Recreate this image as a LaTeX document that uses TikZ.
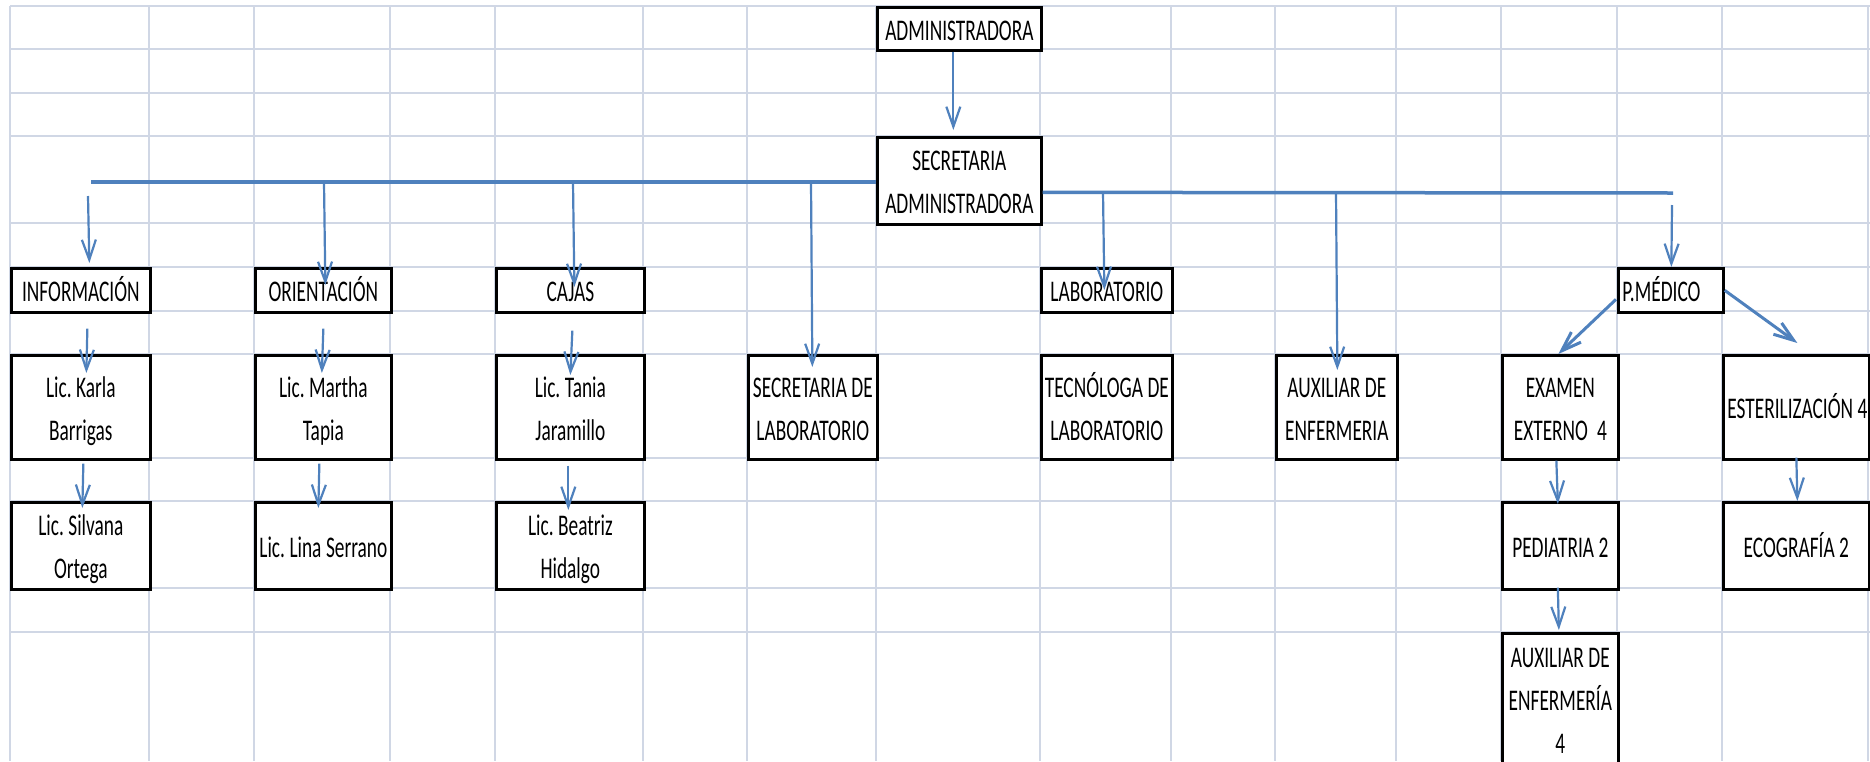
\documentclass[tikz,border=0pt]{standalone}
\usepackage{fontspec}
\setmainfont{Carlito}[FakeStretch=0.645]
\usetikzlibrary{arrows.meta,calc}
\definecolor{gridc}{RGB}{208,215,229}
\definecolor{linec}{RGB}{79,129,189}
% one spreadsheet text line: 33pt above the baseline, 10pt below
\newcommand\xlstrut{\rule[-10pt]{0pt}{43pt}}
% narrow word space of the condensed cell font
\newcommand\wsp{\hspace{4.5pt}}
\newcommand\boxfont{\fontsize{30}{43}\selectfont}
\begin{document}
\begin{tikzpicture}[x=1pt,y=-1pt,
  gridline/.style={draw=gridc,line width=2pt},
  box/.style={draw=black,line width=2.7pt,fill=white,anchor=north west,
    inner xsep=0pt,inner ysep=0pt,align=center,font=\boxfont,
    execute at begin node=\xlstrut,execute at end node=\xlstrut},
  lbox/.style={align=left,inner xsep=4pt},
  cell/.style 2 args={text width=#1pt,minimum height=#2pt},
  bus/.style={draw=linec,line width=3.5pt},
  arr/.style={draw=linec,line width=2.2pt,-{Straight Barb[length=20pt,width=14pt]}},
  diag/.style={arr,line width=3pt}]
\useasboundingbox (0,0) rectangle (1870,761);
\clip (0,0) rectangle (1870,761);
\fill[white] (0,0) rectangle (1870,761);

% sheet grid
\foreach \gx in {10,149,254,390,495,643,747,876,1040,1171,1275,1396,1501,1617,1722,1868}
  \draw[gridline] (\gx,6) -- (\gx,761);
\foreach \gy in {6,49,93,136,223,267,311,354,458,501,588,632}
  \draw[gridline] (10,\gy) -- (1870,\gy);

% boxes
\node[box,cell={164}{43}] (adm) at (876,6) {ADMINISTRADORA};
\node[box,cell={164}{87}] (sec) at (876,136) {SECRETARIA\\ADMINISTRADORA};
\node[box,cell={139}{44}] (info) at (10,267) {INFORMACIÓN};
\node[box,cell={136}{44}] (orie) at (254,267) {ORIENTACIÓN};
\node[box,cell={148}{44}] (cajas) at (495,267) {CAJAS};
\node[box,cell={131}{44}] (lab) at (1040,267) {LABORATORIO};
\node[box,lbox,cell={97}{44}] (pmed) at (1617,267) {P.MÉDICO};
\node[box,cell={139}{104}] (karla) at (10,354) {Lic.\wsp Karla\\Barrigas};
\node[box,cell={136}{104}] (martha) at (254,354) {Lic.\wsp Martha\\Tapia};
\node[box,cell={148}{104}] (tania) at (495,354) {Lic.\wsp Tania\\Jaramillo};
\node[box,cell={129}{104}] (seclab) at (747,354) {SECRETARIA\wsp DE\\LABORATORIO};
\node[box,cell={131}{104}] (tec) at (1040,354) {TECNÓLOGA\wsp DE\\LABORATORIO};
\node[box,cell={121}{104}] (aux) at (1275,354) {AUXILIAR\wsp DE\\ENFERMERIA};
\node[box,cell={116}{104}] (exam) at (1501,354) {EXAMEN\\EXTERNO\wsp\wsp 4};
\node[box,lbox,cell={138}{104}] (este) at (1722,354) {\mbox{ESTERILIZACIÓN\wsp 4}};
\node[box,cell={139}{87}] (silvana) at (10,501) {Lic.\wsp Silvana\\Ortega};
\node[box,cell={136}{87}] (lina) at (254,501) {\mbox{Lic.\wsp Lina\wsp Serrano}};
\node[box,cell={148}{87}] (beatriz) at (495,501) {Lic.\wsp Beatriz\\Hidalgo};
\node[box,cell={116}{87}] (pedia) at (1501,501) {PEDIATRIA\wsp 2};
\node[box,cell={146}{87}] (eco) at (1722,501) {ECOGRAFÍA\wsp 2};
\node[box,cell={116}{131}] (aux4) at (1501,632) {AUXILIAR\wsp DE\\ENFERMERÍA\\4};

% top link
\draw[arr] ($(adm.south)+(-6,0)$) -- ($(sec.north)+(-6,-6)$);

% distribution lines
\coordinate (busL) at (91,182);
\coordinate (busR) at (1673,193);
\draw[bus] (busL) -- (busL -| sec.west);
\draw[bus] ($(sec.east)+(0,11.5)$) -- (busR);

% drops from the distribution lines
\coordinate (dO) at (324,182);
\coordinate (dC) at (573,182);
\coordinate (dS) at (811,182);
\coordinate (dL) at (1103,192);
\coordinate (dA) at (1336,192);
\coordinate (dI) at (88,196);
\coordinate (dP) at (1672,205);
\draw[arr] (dI) -- ($(info.north)+(8.5,-4)$);
\draw[arr] (dO) -- ($(orie.north)+(2,18)$);
\draw[arr] (dC) -- ($(cajas.north)+(4,20)$);
\draw[arr] (dS) -- ($(seclab.north)+(-0.5,13)$);
\draw[arr] (dL) -- ($(lab.north)+(-2.5,23)$);
\draw[arr] (dA) -- ($(aux.north)+(0.5,16)$);
\draw[arr] (dP) -- ($(pmed.north)+(0.5,0)$);

% P.MEDICO branches
\draw[diag] ($(pmed.west)+(-1,9)$) -- ($(exam.north)+(-2,0)$);
\draw[diag] (pmed.east) -- ($(este.north)+(1,-11)$);

% lower links
\draw[arr] ($(info.south)+(6.5,15)$) -- ($(karla.north)+(5.5,19)$);
\draw[arr] ($(orie.south)+(0,15)$) -- ($(martha.north)+(-1.5,19)$);
\draw[arr] ($(cajas.south)+(2,17)$) -- ($(tania.north)+(0,21)$);
\draw[arr] ($(karla.south)+(2.5,3)$) -- ($(silvana.north)+(1.5,7)$);
\draw[arr] ($(martha.south)+(-4,3)$) -- ($(lina.north)+(-5,7)$);
\draw[arr] ($(tania.south)+(-2,5)$) -- ($(beatriz.north)+(-2,9)$);
\draw[arr] ($(exam.south)+(-4,0)$) -- ($(pedia.north)+(-2.5,3)$);
\draw[arr] ($(pedia.south)+(-2.5,-3)$) -- ($(aux4.north)+(-1.5,-2)$);
\draw[arr] ($(este.south)+(0,-3)$) -- ($(eco.north)+(1,0)$);
\end{tikzpicture}
\end{document}
